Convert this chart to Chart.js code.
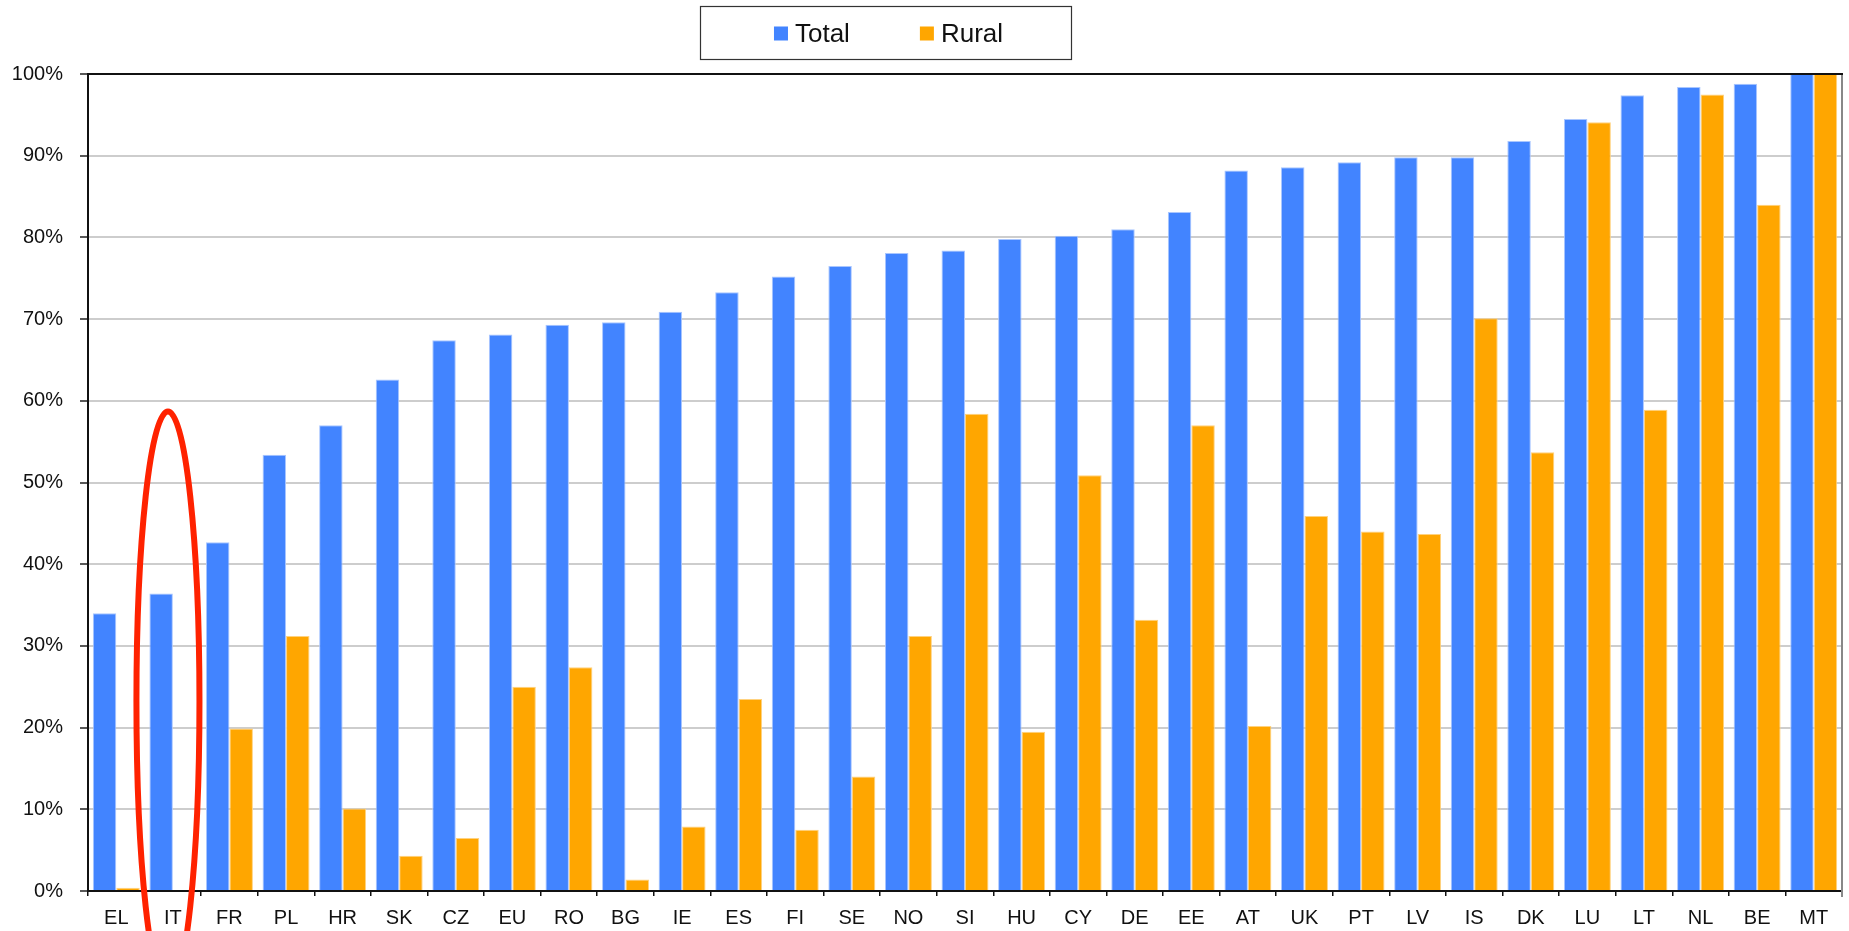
<!DOCTYPE html>
<html>
<head>
<meta charset="utf-8">
<title>Total and rural coverage by country</title>
<script src="https://cdn.jsdelivr.net/npm/chart.js@4.4.1/dist/chart.umd.min.js"></script>
<style>
  html, body { margin: 0; padding: 0; background: #ffffff; }
  #wrap { width: 1849px; height: 931px; position: relative; }
</style>
</head>
<body>
<div id="wrap"><canvas id="chart"></canvas></div>
<script>
// Country codes, ordered by total coverage
const categories = ['EL','IT','FR','PL','HR','SK','CZ','EU','RO','BG','IE','ES','FI','SE','NO','SI',
                    'HU','CY','DE','EE','AT','UK','PT','LV','IS','DK','LU','LT','NL','BE','MT'];

// Coverage, percent of households
const totalValues = [34.0, 36.4, 42.7, 53.4, 57.0, 62.6, 67.4, 68.1, 69.3, 69.6, 70.9, 73.3, 75.2, 76.5, 78.1, 78.4,
                     79.8, 80.2, 81.0, 83.1, 88.2, 88.6, 89.2, 89.8, 89.8, 91.8, 94.5, 97.4, 98.4, 98.8, 100];
const ruralValues = [0.4, 0.0, 19.9, 31.2, 10.1, 4.3, 6.5, 25.0, 27.4, 1.4, 7.9, 23.5, 7.5, 14.0, 31.2, 58.4,
                     19.5, 50.9, 33.2, 57.0, 20.2, 45.9, 44.0, 43.7, 70.1, 53.7, 94.1, 58.9, 97.5, 84.0, 100];

const seriesNames = ['Total', 'Rural'];
const yTickValues = [0, 10, 20, 30, 40, 50, 60, 70, 80, 90, 100];

const BLUE = '#4284ff';
const ORANGE = '#ffa600';
const FONT = "'Liberation Sans', Arial, Helvetica, sans-serif";

// Boxed legend above the plot
const boxedLegend = {
  id: 'boxedLegend',
  afterDraw(chart, args, opts) {
    const ctx = chart.ctx;
    ctx.save();
    ctx.strokeStyle = '#333333';
    ctx.lineWidth = 1.2;
    ctx.strokeRect(opts.x + 0.5, opts.y + 0.5, opts.w, opts.h);
    ctx.font = opts.fontSize + 'px ' + FONT;
    ctx.textBaseline = 'alphabetic';
    const items = chart.data.datasets.map(ds => ({
      text: ds.label, color: ds.backgroundColor, w: ctx.measureText(ds.label).width
    }));
    let content = 0;
    items.forEach((it, i) => {
      content += opts.box + opts.textGap + it.w + (i ? opts.itemGap : 0);
    });
    let x = opts.x + opts.w / 2 - content / 2 + opts.shift;
    const midY = opts.y + opts.h / 2;
    items.forEach(it => {
      ctx.fillStyle = it.color;
      ctx.fillRect(x, midY - opts.box / 2 + 1, opts.box, opts.box);
      ctx.fillStyle = '#111111';
      ctx.fillText(it.text, x + opts.box + opts.textGap, midY + opts.fontSize * 0.37);
      x += opts.box + opts.textGap + it.w + opts.itemGap;
    });
    ctx.restore();
  }
};

// Top and right edges of the plot frame
const plotFrame = {
  id: 'plotFrame',
  afterDatasetsDraw(chart) {
    const {ctx, chartArea: a} = chart;
    ctx.save();
    ctx.lineWidth = 2;
    ctx.strokeStyle = '#888888';
    ctx.beginPath();
    ctx.moveTo(a.right, a.top);
    ctx.lineTo(a.right, a.bottom + 6);
    ctx.stroke();
    ctx.strokeStyle = '#111111';
    ctx.beginPath();
    ctx.moveTo(a.left, a.top);
    ctx.lineTo(a.right + 1, a.top);
    ctx.stroke();
    ctx.restore();
  }
};

// Hand-drawn style ring highlighting one country
const highlightRing = {
  id: 'highlightRing',
  afterDraw(chart, args, opts) {
    const xs = chart.scales.x, ys = chart.scales.y;
    const idx = chart.data.labels.indexOf(opts.category) + opts.shift;
    const cat = xs.getPixelForValue(1) - xs.getPixelForValue(0);
    const cx = xs.getPixelForValue(idx);
    const yTop = ys.getPixelForValue(opts.top);
    const yBot = ys.getPixelForValue(opts.bottom);
    const ctx = chart.ctx;
    ctx.save();
    ctx.strokeStyle = opts.color;
    ctx.lineWidth = opts.width;
    ctx.beginPath();
    ctx.ellipse(cx, (yTop + yBot) / 2, opts.halfWidth * cat, (yBot - yTop) / 2, 0, 0, Math.PI * 2);
    ctx.stroke();
    ctx.restore();
  }
};

new Chart(document.getElementById('chart'), {
  type: 'bar',
  data: {
    labels: categories,
    datasets: [
      { label: seriesNames[0], data: totalValues, backgroundColor: BLUE, borderColor: '#a9c6ff', borderWidth: 1 },
      { label: seriesNames[1], data: ruralValues, backgroundColor: ORANGE, borderColor: '#ffd27f', borderWidth: 1 }
    ]
  },
  options: {
    responsive: true,
    maintainAspectRatio: false,
    animation: false,
    devicePixelRatio: 1,
    datasets: { bar: { categoryPercentage: 0.83, barPercentage: 1.0 } },
    layout: { padding: { top: 74, right: 7, left: 0, bottom: 0 } },
    plugins: {
      legend: { display: false },
      tooltip: { enabled: false },
      boxedLegend: { x: 700, y: 6, w: 371, h: 53, box: 14, textGap: 7, itemGap: 70, fontSize: 26, shift: 3 },
      highlightRing: { category: 'IT', shift: -0.087, top: 58.7, bottom: -12.3, halfWidth: 0.557, color: '#ff2200', width: 6 }
    },
    scales: {
      x: {
        offset: true,
        afterFit(scale) { scale.height = 40; },
        grid: { display: true, offset: true, drawOnChartArea: false, drawTicks: true, tickLength: 5, color: '#111111', lineWidth: 1.5 },
        border: { display: true, color: '#111111', width: 2 },
        ticks: { color: '#111111', font: { family: FONT, size: 20 }, padding: 10, maxRotation: 0, autoSkip: false }
      },
      y: {
        min: 0,
        max: 100,
        afterFit(scale) { scale.width = 88; },
        afterBuildTicks(scale) { scale.ticks = yTickValues.map(v => ({ value: v })); },
        grid: { color: '#cdcdcd', lineWidth: 2, tickColor: '#222222', tickWidth: 1.5, tickLength: 8 },
        border: { display: true, color: '#111111', width: 2 },
        ticks: { color: '#111111', font: { family: FONT, size: 20 }, padding: 17, callback: v => v + '%' }
      }
    }
  },
  plugins: [plotFrame, boxedLegend, highlightRing]
});
</script>
</body>
</html>
